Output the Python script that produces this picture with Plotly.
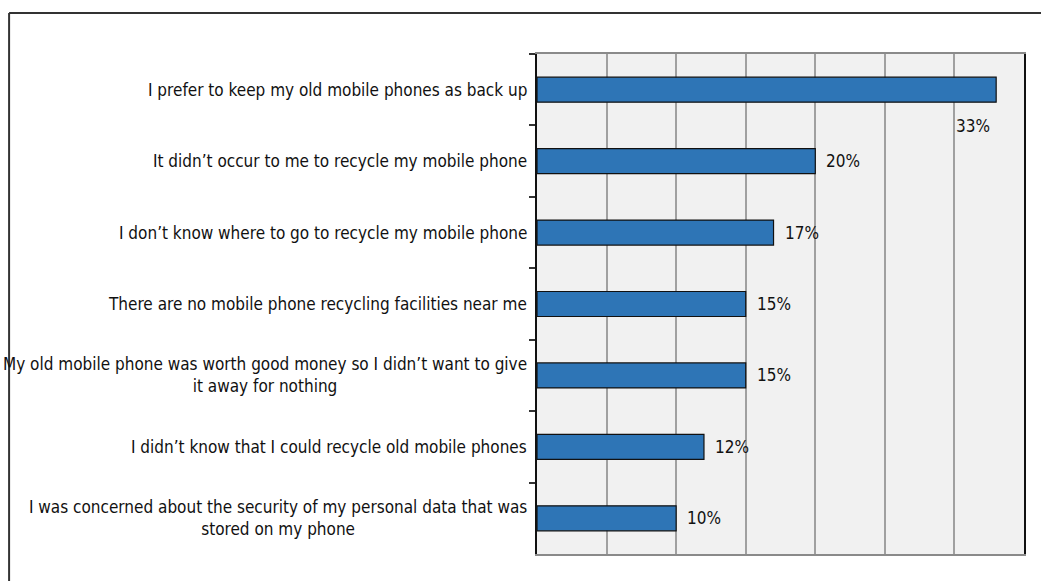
import plotly.graph_objects as go

categories = [
    "I prefer to keep my old mobile phones as back up",
    "It didn\u2019t occur to me to recycle my mobile phone",
    "I don\u2019t know where to go to recycle my mobile phone",
    "There are no mobile phone recycling facilities near me",
    "My old mobile phone was worth good money so I didn\u2019t want to give<br>it away for nothing",
    "I didn\u2019t know that I could recycle old mobile phones",
    "I was concerned about the security of my personal data that was<br>stored on my phone",
]
values = [33, 20, 17, 15, 15, 12, 10]
value_labels = ["33%", "20%", "17%", "15%", "15%", "12%", "10%"]

FONT = "Arial Narrow, Liberation Sans Narrow, DejaVu Sans Condensed, sans-serif"

fig = go.Figure()
fig.add_trace(go.Bar(
    y=categories, x=values, orientation="h",
    marker=dict(color="#2E75B6", line=dict(color="#111111", width=1.2)),
    hoverinfo="skip",
))

annotations = []
for i, (c, v, t) in enumerate(zip(categories, values, value_labels)):
    annotations.append(dict(
        x=0, xref="paper", y=c, yref="y", text=c, showarrow=False,
        xanchor="right", yanchor="middle", align="center", xshift=-8,
        font=dict(family=FONT, size=17, color="#111111"),
    ))
    if i == 0:
        annotations.append(dict(
            x=v, xref="x", y=c, yref="y", text=t, showarrow=False,
            xanchor="right", yanchor="middle", xshift=-4, yshift=-36,
            font=dict(family=FONT, size=17, color="#111111"),
        ))
    else:
        annotations.append(dict(
            x=v, xref="x", y=c, yref="y", text=t, showarrow=False,
            xanchor="left", yanchor="middle", xshift=9,
            font=dict(family=FONT, size=17, color="#111111"),
        ))

# outer frame (left and top edges visible)
shapes = [
    dict(type="line", xref="paper", yref="paper", x0=-1.084, x1=-1.084, y0=1.082, y1=-0.1,
         line=dict(color="#333333", width=2)),
    dict(type="line", xref="paper", yref="paper", x0=-1.084, x1=1.1, y0=1.082, y1=1.082,
         line=dict(color="#333333", width=2)),
]

fig.update_layout(
    width=1041, height=581,
    margin=dict(l=537, r=17, t=54, b=27),
    paper_bgcolor="white", plot_bgcolor="#F1F1F1",
    showlegend=False, bargap=0.65,
    annotations=annotations, shapes=shapes,
    font=dict(family=FONT, size=17, color="#111111"),
)
fig.update_xaxes(
    range=[0, 35], dtick=5, showticklabels=False, showgrid=True,
    gridcolor="#A0A0A0", gridwidth=1.5, zeroline=False,
    showline=True, linecolor="#8A8A8A", linewidth=1.5, mirror=True, ticks="",
)
fig.update_yaxes(
    categoryorder="array", categoryarray=categories,
    range=[len(categories) - 0.5, -0.5], autorange=False,
    showticklabels=False, ticks="outside", tickson="boundaries", ticklen=6,
    tickcolor="#333333", tickwidth=1.5, showgrid=False,
    showline=True, linecolor="#111111", linewidth=1.5, mirror=True,
)

fig.write_html("out.html")
